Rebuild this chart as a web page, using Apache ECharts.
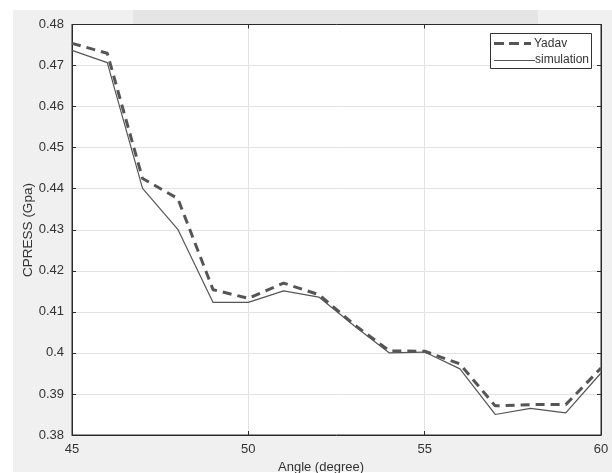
<!DOCTYPE html>
<html>
<head>
<meta charset="utf-8">
<script src="https://cdn.jsdelivr.net/npm/echarts@6/dist/echarts.min.js"></script>
<style>
html,body{margin:0;padding:0;background:#fff;}
#c{width:612px;height:473px;}
</style>
</head>
<body>
<div id="c"></div>
<script>
const angles = [45,46,47,48,49,50,51,52,53,54,55,56,57,58,59,60];
const yadav = [0.4754,0.4730,0.4425,0.4376,0.4154,0.4133,0.4170,0.4142,0.4069,0.4005,0.4004,0.3973,0.3871,0.3874,0.3874,0.3963];
const simulation = [0.4737,0.4707,0.4401,0.4301,0.4123,0.4123,0.4151,0.4136,0.4066,0.4000,0.4002,0.3961,0.3850,0.3865,0.3854,0.3951];
const seriesNames = ['Yadav','simulation'];
const xTicks = [45,50,55,60];
const yTicks = [0.38,0.39,0.40,0.41,0.42,0.43,0.44,0.45,0.46,0.47,0.48];

const font = 'Liberation Sans, Arial, sans-serif';
const chart = echarts.init(document.getElementById('c'), null, {renderer:'canvas'});
const G = {left:72, right:11, top:24.5, bottom:38};
chart.setOption({
  animation:false,
  backgroundColor:'#fff',
  graphic:[
    {type:'rect', z:-10, shape:{x:13,y:10,width:599,height:462}, style:{fill:'#f0f0f0'}},
    {type:'rect', z:-9, shape:{x:133,y:10,width:405,height:14}, style:{fill:'#e5e5e5'}},
    {type:'text', x:321, y:467, style:{text:'Angle (degree)', font:'13px '+font, fill:'#333', align:'center', verticalAlign:'middle'}},
    {type:'text', rotation:Math.PI/2, x:28, y:230, style:{text:'CPRESS (Gpa)', font:'13.5px '+font, fill:'#333', align:'center', verticalAlign:'middle'}},
    // legend
    {type:'rect', z:50, shape:{x:490.5,y:33.5,width:101,height:35}, style:{fill:'#fff', stroke:'#333', lineWidth:1}},
    {type:'line', z:51, shape:{x1:494,y1:43.5,x2:531,y2:43.5}, style:{stroke:'#555', lineWidth:3, lineDash:[10,5]}},
    {type:'text', z:51, x:534, y:44, style:{text:seriesNames[0], font:'12px '+font, fill:'#333', verticalAlign:'middle'}},
    {type:'line', z:51, shape:{x1:494,y1:60.5,x2:535,y2:60.5}, style:{stroke:'#555', lineWidth:1.2}},
    {type:'text', z:51, x:535, y:60, style:{text:seriesNames[1], font:'12px '+font, fill:'#333', verticalAlign:'middle'}}
  ],
  grid:{left:G.left, right:G.right, top:G.top, bottom:G.bottom, show:true, backgroundColor:'#fff', borderColor:'#2b2b2b', borderWidth:1},
  xAxis:[{
    type:'value', min:xTicks[0], max:xTicks[xTicks.length-1], interval:5,
    axisLine:{show:true, lineStyle:{color:'#2b2b2b'}},
    axisTick:{show:true, inside:true, length:4, lineStyle:{color:'#2b2b2b'}},
    axisLabel:{color:'#333', fontFamily:font, fontSize:13, margin:8},
    splitLine:{show:true, lineStyle:{color:'#e3e3e3'}}
  },{
    type:'value', position:'top', min:xTicks[0], max:xTicks[xTicks.length-1], interval:5,
    axisLine:{show:true, lineStyle:{color:'#2b2b2b'}},
    axisTick:{show:true, inside:true, length:4, lineStyle:{color:'#2b2b2b'}},
    axisLabel:{show:false}, splitLine:{show:false}
  }],
  yAxis:[{
    type:'value', min:yTicks[0], max:yTicks[yTicks.length-1], interval:0.01,
    axisLine:{show:true, lineStyle:{color:'#2b2b2b'}},
    axisTick:{show:true, inside:true, length:4, lineStyle:{color:'#2b2b2b'}},
    axisLabel:{color:'#333', fontFamily:font, fontSize:13, margin:8, formatter:v=>String(+v.toFixed(2))},
    splitLine:{show:true, lineStyle:{color:'#e3e3e3'}}
  },{
    type:'value', position:'right', min:yTicks[0], max:yTicks[yTicks.length-1], interval:0.01,
    axisLine:{show:true, lineStyle:{color:'#2b2b2b'}},
    axisTick:{show:true, inside:true, length:4, lineStyle:{color:'#2b2b2b'}},
    axisLabel:{show:false}, splitLine:{show:false}
  }],
  series:[
    {name:seriesNames[0], type:'line', symbol:'none', data:angles.map((a,i)=>[a,yadav[i]]),
     lineStyle:{color:'#555', width:3, type:[9,6]}, itemStyle:{color:'#555'}},
    {name:seriesNames[1], type:'line', symbol:'none', data:angles.map((a,i)=>[a,simulation[i]]),
     lineStyle:{color:'#555', width:1.2}, itemStyle:{color:'#555'}}
  ]
});
</script>
</body>
</html>
